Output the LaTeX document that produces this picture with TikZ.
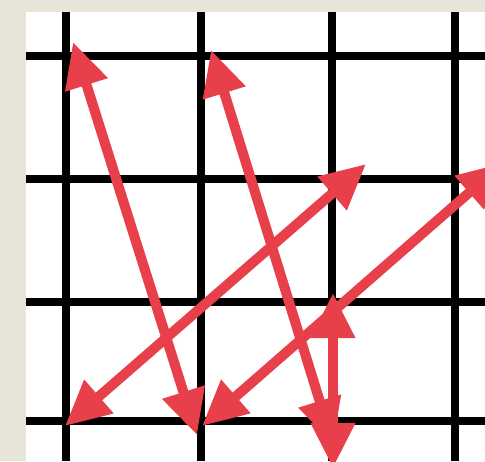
\documentclass[tikz,border=0pt]{standalone}
\usetikzlibrary{arrows.meta}
\definecolor{bgbeige}{RGB}{231,229,216}
\definecolor{arrowred}{RGB}{232,64,74}
\tikzset{
  gridline/.style={line width=8pt, black},
  redline/.style={line width=10pt, arrowred},
  redarrow/.style={redline, {Triangle[length=45pt,width=42pt]}-{Triangle[length=45pt,width=42pt]}},
}
\begin{document}
\begin{tikzpicture}[x=1pt,y=-1pt]
\useasboundingbox (0,0) rectangle (485,461);
\clip (0,0) rectangle (485,461);
\fill[bgbeige] (0,0) rectangle (485,461);
\fill[white] (26,12) rectangle (485,461);
% grid
\foreach \gx in {66,201,332,455} \draw[gridline] (\gx,12) -- (\gx,461);
\foreach \gy in {56,179,302,421} \draw[gridline] (26,\gy) -- (485,\gy);
% endpoints
\coordinate (a1) at (73,42);
\coordinate (b1) at (197,435);
\coordinate (a2) at (211,50);
\coordinate (b2) at (333,444);
\coordinate (a3) at (65,426);
\coordinate (b3) at (366,164);
\coordinate (a4) at (202,426);
\coordinate (b4) at (503,163);
\coordinate (a5) at (333,293);
\coordinate (b5) at (333,468);
% arrows
\draw[redarrow] (a5) -- (b5);
\draw[redarrow] (a1) -- (b1);
\draw[redarrow] (a2) -- (b2);
\draw[redarrow] (a3) -- (b3);
\draw[redarrow] (a4) -- (b4);
\end{tikzpicture}
\end{document}
